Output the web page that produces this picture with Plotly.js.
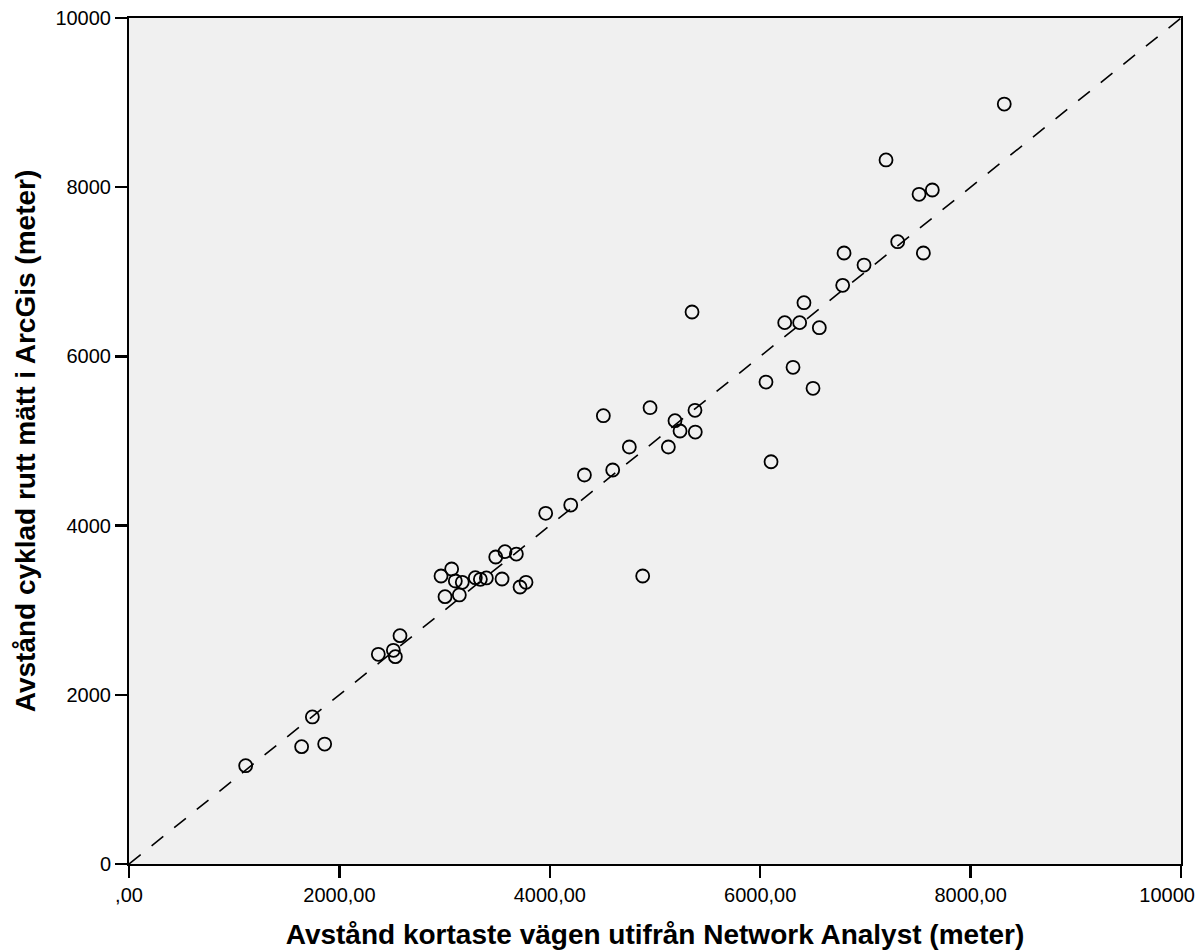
<!DOCTYPE html>
<html>
<head>
<meta charset="utf-8">
<script src="https://cdn.plot.ly/plotly-3.0.1.min.js"></script>
<style>html,body{margin:0;padding:0;background:#fff;} #chart{width:1196px;height:951px;}</style>
</head>
<body>
<div id="chart"></div>
<script>
// Distance of shortest path via Network Analyst (x) vs measured cycled route in ArcGis (y)
const networkAnalyst = [1109,1641,1743,1860,2370,2513,2532,2576,
  2966,3004,3067,3102,3140,3168,3292,3340,3397,3486,3546,3574,3682,3717,3774,
  3961,4199,4329,4509,4598,4756,4883,4953,5127,5190,5238,5352,5380,5383,
  6055,6103,6233,6312,6375,6416,6502,6562,6784,6797,6987,7196,7307,7510,7551,7636,8320];
const arcGis = [1162,1387,1738,1418,2479,2526,2451,2699,
  3404,3160,3487,3345,3180,3330,3384,3365,3381,3629,3369,3692,3664,3274,3330,
  4145,4243,4598,5299,4657,4929,3404,5394,4929,5240,5118,6525,5363,5106,
  5697,4755,6399,5871,6399,6635,5623,6339,6840,7222,7080,8322,7356,7916,7222,7967,8983];
const refLine = [0, 10000];
const xTickVals = [0,2000,4000,6000,8000,10000];
const xTickText = [",00","2000,00","4000,00","6000,00","8000,00","10000,00"];
const yTickVals = [0,2000,4000,6000,8000,10000];
const yTickText = ["0","2000","4000","6000","8000","10000"];

const font = "Liberation Sans, Arial, Helvetica, sans-serif";

const traces = [
  {x: refLine, y: refLine, mode: 'lines', type: 'scatter', hoverinfo: 'skip',
   line: {color: '#000', width: 1.6, dash: '15px,14px'}},
  {x: networkAnalyst, y: arcGis, mode: 'markers', type: 'scatter',
   marker: {symbol: 'circle-open', size: 13, color: '#000', line: {color: '#000', width: 1.8}}}
];

const layout = {
  width: 1196, height: 951,
  margin: {l: 129, r: 15, t: 18, b: 87},
  paper_bgcolor: '#ffffff', plot_bgcolor: '#f0f0f0',
  showlegend: false,
  font: {family: font, color: '#000', size: 20},
  xaxis: {range: [0, 10000], tickvals: xTickVals, ticktext: xTickText,
    ticks: 'outside', ticklen: 12, tickwidth: 2.5, tickcolor: '#000',
    showline: true, linecolor: '#000', linewidth: 2, mirror: true,
    showgrid: false, zeroline: false, tickfont: {size: 20, family: font},
    ticklabeloverflow: 'allow',
    title: {text: 'Avstånd kortaste vägen utifrån Network Analyst (meter)', standoff: 19,
      font: {size: 28, family: font, weight: 'bold'}}},
  yaxis: {range: [0, 10000], tickvals: yTickVals, ticktext: yTickText,
    ticks: 'outside', ticklen: 12, tickwidth: 2.5, tickcolor: '#000',
    showline: true, linecolor: '#000', linewidth: 2, mirror: true,
    showgrid: false, zeroline: false, tickfont: {size: 20, family: font},
    ticklabeloverflow: 'allow',
    title: {text: 'Avstånd cyklad rutt mätt i ArcGis (meter)', standoff: 12,
      font: {size: 28, family: font, weight: 'bold'}}}
};

Plotly.newPlot('chart', traces, layout, {displayModeBar: false, staticPlot: true});
</script>
</body>
</html>
